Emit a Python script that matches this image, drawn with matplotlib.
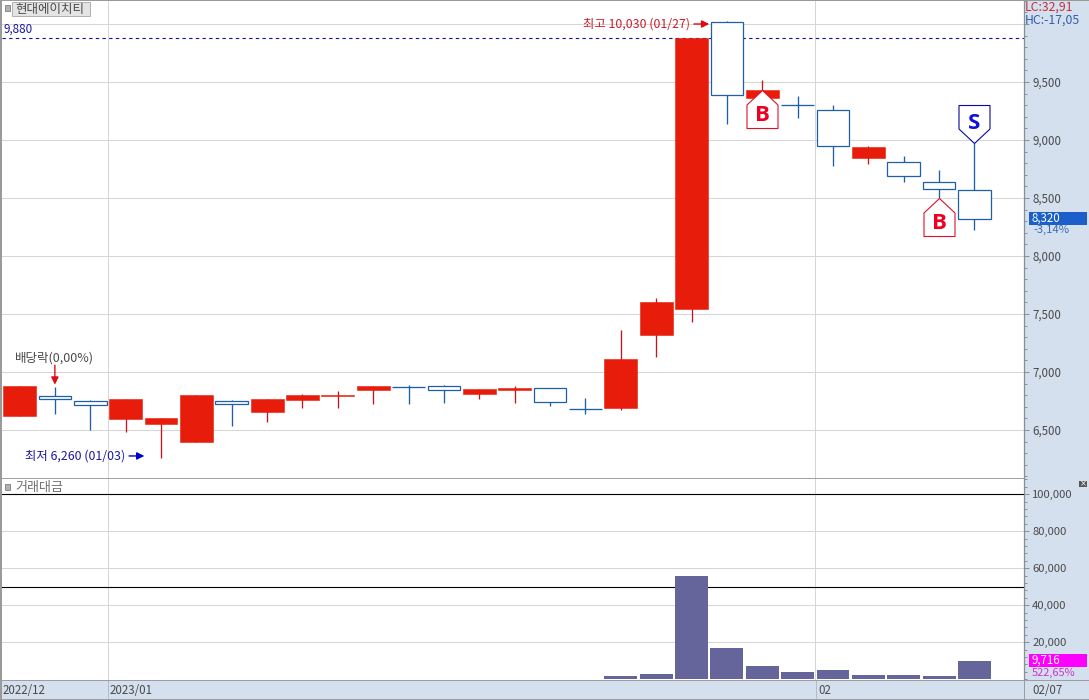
import matplotlib
matplotlib.use("Agg")
import matplotlib.pyplot as plt
from matplotlib.path import Path
from matplotlib.patches import Rectangle
from matplotlib.ticker import MultipleLocator, FuncFormatter

plt.rcParams['font.family'] = ['Noto Sans CJK KR', 'DejaVu Sans']

opens  = [6620,6793,6750,6595,6552,6400,6754,6655,6761,6795,6845,6870,6877,6813,6845,6860,6678,6692,7321,7546,10014,9364,9299,9256,8847,8808,8635,8566]
highs  = [6880,6871,6759,6767,6603,6800,6759,6767,6810,6836,6882,6888,6885,6851,6879,6860,6773,7362,7638,9880,10030,9514,9379,9301,8951,8862,8741,8977]
lows   = [6620,6638,6500,6483,6260,6400,6537,6572,6692,6692,6727,6727,6730,6770,6730,6710,6640,6672,7132,7434,9135,9364,9192,8778,8796,8640,8500,8221]
closes = [6880,6770,6716,6767,6603,6800,6727,6767,6802,6802,6882,6870,6847,6851,6862,6739,6678,7112,7603,9880,9385,9431,9299,8945,8939,8692,8580,8320]
amount = [100,100,100,100,100,100,100,100,100,100,100,100,100,100,100,100,300,2000,3000,56000,17000,7300,4000,5100,2400,2400,1900,9716]

price_ticks = [6500,7000,7500,8000,8500,9000,9500,10000]
price_labels = ['6,500','7,000','7,500','8,000','8,500','9,000','9,500','']
amount_ticks = [20000,40000,60000,80000,100000]
ref_price = 9880
ref_amounts = [50000,100000]
month_breaks = [2.5,22.5]
date_labels = ['2022/12','2023/01','02','02/07']
buy_idx = [21,26]
buy_tip = [9431,8500]
sell_idx = [27]
sell_tip = [8977]

W,H = 1089,700
RED='#E81C0A'; RWICK='#C8141E'; BLUE='#1F5FA8'; GRID='#D6D6D6'; PANEL='#D5E0EE'; AX='#8A8F96'; TXT='#4A4A4A'
fig = plt.figure(figsize=(W/100,H/100),dpi=100,facecolor=PANEL)

def rect(x0,y0,x1,y1):
    return [x0/W,1-y1/H,(x1-x0)/W,(y1-y0)/H]
def ftext(x,y,s,**k):
    k.setdefault('fontsize',8.3); k.setdefault('color',TXT); k.setdefault('va','center'); k.setdefault('ha','left')
    fig.text(x/W,1-y/H,s,**k)
def fbox(x0,y0,x1,y1,fc,ec='none',lw=0.8,z=5):
    fig.add_artist(Rectangle((x0/W,1-y1/H),(x1-x0)/W,(y1-y0)/H,transform=fig.transFigure,fc=fc,ec=ec,lw=lw,zorder=z))

xlim = ((2-19.5)/35.37,(1024-19.5)/35.37)
ax = fig.add_axes(rect(2,0,1024,478)); ax2 = fig.add_axes(rect(2,479,1024,680))
ax.set_xlim(xlim); ax2.set_xlim(xlim)
ax.set_ylim(6086,10207); ax2.set_ylim(-380,108250)

for a in (ax,ax2):
    a.set_xticks([]); a.yaxis.tick_right()
    for s in ('top','left','bottom'): a.spines[s].set_visible(False)
    a.spines['right'].set_color(AX); a.spines['right'].set_linewidth(0.9)
    a.tick_params(axis='y',which='major',length=3.6,width=0.7,color=AX,labelsize=8.3,labelcolor=TXT,pad=2.2)
    a.tick_params(axis='y',which='minor',length=2,width=0.7,color=AX)
    a.set_axisbelow(True)
    for m in month_breaks: a.axvline(m,color=GRID,lw=0.75,zorder=0)

ax.set_yticks(price_ticks); ax.set_yticklabels(price_labels)
ax.yaxis.set_minor_locator(MultipleLocator(100))
ax.grid(axis='y',color=GRID,lw=0.75)
ax2.set_yticks(amount_ticks)
ax2.yaxis.set_major_formatter(FuncFormatter(lambda v,_:f'{int(v):,}'))
ax2.yaxis.set_minor_locator(MultipleLocator(4000))
ax2.grid(axis='y',color=GRID,lw=0.75)
ax2.tick_params(axis='y',which='major',labelsize=8.1)

ax.axhline(ref_price,color='#1010A0',lw=0.8,ls=(0,(3,3)),zorder=1)
for v in ref_amounts: ax2.axhline(v,color='black',lw=0.8,zorder=1)

idx = range(len(opens))
for i,o,h,l,c in zip(idx,opens,highs,lows,closes):
    up = c>o
    ax.vlines(i,l,h,color=RWICK if up else BLUE,lw=0.95,zorder=2)
    if up:
        ax.bar(i,c-o,bottom=o,width=0.93,color=RED,ec=RED,lw=0.4,zorder=3)
    elif o==c:
        ax.hlines(o,i-0.465,i+0.465,color=BLUE,lw=0.95,zorder=3)
    else:
        ax.bar(i,o-c,bottom=c,width=0.92,facecolor='white',edgecolor=BLUE,lw=0.9,zorder=3)

ax2.bar(list(idx),amount,width=0.93,color='#65659B',zorder=3)

house_up = Path([(0,0),(-15.5,-14.5),(-15.5,-38),(15.5,-38),(15.5,-14.5),(0,0)],closed=True)
house_dn = Path([(0,0),(-15.5,14.5),(-15.5,38),(15.5,38),(15.5,14.5),(0,0)],closed=True)
MS = 76*0.72
for i,v in zip(buy_idx,buy_tip):
    ax.plot([i],[v],marker=house_up,ms=MS,mfc='white',mec='#E0102A',mew=0.8,ls='none',zorder=6)
    ax.annotate('B',(i,v),xytext=(0,-18.5),textcoords='offset points',ha='center',va='center',color='#EE0022',
                fontsize=16,fontweight='bold',family='Open Sans',zorder=7)
for i,v in zip(sell_idx,sell_tip):
    ax.plot([i],[v],marker=house_dn,ms=MS,mfc='white',mec='#0A0A9A',mew=0.8,ls='none',zorder=6)
    ax.annotate('S',(i,v),xytext=(0,14),textcoords='offset points',ha='center',va='center',color='#1010DD',
                fontsize=16,fontweight='bold',family='Open Sans',zorder=7)

# high / low / ex-dividend annotations
arrow_red = dict(arrowstyle='-|>',color='#E00A14',lw=1.0,mutation_scale=11,shrinkA=0,shrinkB=0)
arrow_blue = dict(arrowstyle='-|>',color='#0000CC',lw=1.0,mutation_scale=11,shrinkA=0,shrinkB=0)
ax.annotate('',xy=(19.5,10000),xytext=(-11,0),textcoords='offset points',arrowprops=arrow_red,zorder=8)
ax.annotate('최고 10,030 (01/27)',xy=(19.5,10000),xytext=(-14,0),textcoords='offset points',ha='right',va='center',
            color='#C8202A',fontsize=8.9)
ax.annotate('',xy=(3.53,6276),xytext=(-11,0),textcoords='offset points',arrowprops=arrow_blue,zorder=8)
ax.annotate('최저 6,260 (01/03)',xy=(3.53,6276),xytext=(-14,0),textcoords='offset points',ha='right',va='center',
            color='#1A1AA0',fontsize=8.9)
ax.annotate('',xy=(1,6891),xytext=(0,14),textcoords='offset points',arrowprops=arrow_red,zorder=8)
ax.annotate('배당락(0,00%)',xy=(1,6891),xytext=(0,19),textcoords='offset points',ha='center',va='center',
            color=TXT,fontsize=9)
ax.text(1/1022,1-29/478,'9,880',transform=ax.transAxes,color='#1A1AA0',fontsize=8.4,va='center')

# chrome
fbox(0,0,2,700,'#9A9A9A')
fbox(0,0,1089,1,'#9A9A9A')
fbox(2,478,1024,479,'#A0A0A0')
fbox(0,680,1089,681,'#9A9EA4')
fbox(0,699,1089,700,'#9A9EA4')
fbox(1024,681,1025,699,'#9A9EA4')
for m in (108,816): fbox(m,681,m+1,699,'#B8BCC2')
fbox(5,5,10,11,'#B0B0B0',ec='#808080',lw=0.6)
fbox(12.5,2,89.5,16,'#E4E4E4',ec='#B0B0B0',lw=0.7)
ftext(15,9,'현대에이치티',fontsize=9,zorder=6)
fbox(5,484,10,490,'#B0B0B0',ec='#808080',lw=0.6)
ftext(15,487,'거래대금',fontsize=9.4,color='#707070')
fbox(1079,481,1087,487,'#555555')
ftext(1083,484,'×',color='white',fontsize=6,ha='center',zorder=6,family='DejaVu Sans')
ftext(1025,7,'LC:32,91',color='#C03038',fontsize=8.8)
ftext(1025,20,'HC:-17,05',color='#2F5FA8',fontsize=8.8)
fbox(1029,212,1087,224.7,'#1C5FC8')
ftext(1032,218,'8,320',color='white',zorder=6)
ftext(1033,230,'-3,14%',color='#3A68B8',fontsize=8.1)
fbox(1029,654,1087,666.7,'#FF00FF')
ftext(1031,660,'9,716',color='white',zorder=6)
ftext(1032,673,'522,65%',color='#CC33CC',fontsize=7.9)
ftext(3,690,date_labels[0]); ftext(110,690,date_labels[1]); ftext(818,690,date_labels[2]); ftext(1032,690,date_labels[3])

fig.savefig('out.png',dpi=100,facecolor=fig.get_facecolor())
